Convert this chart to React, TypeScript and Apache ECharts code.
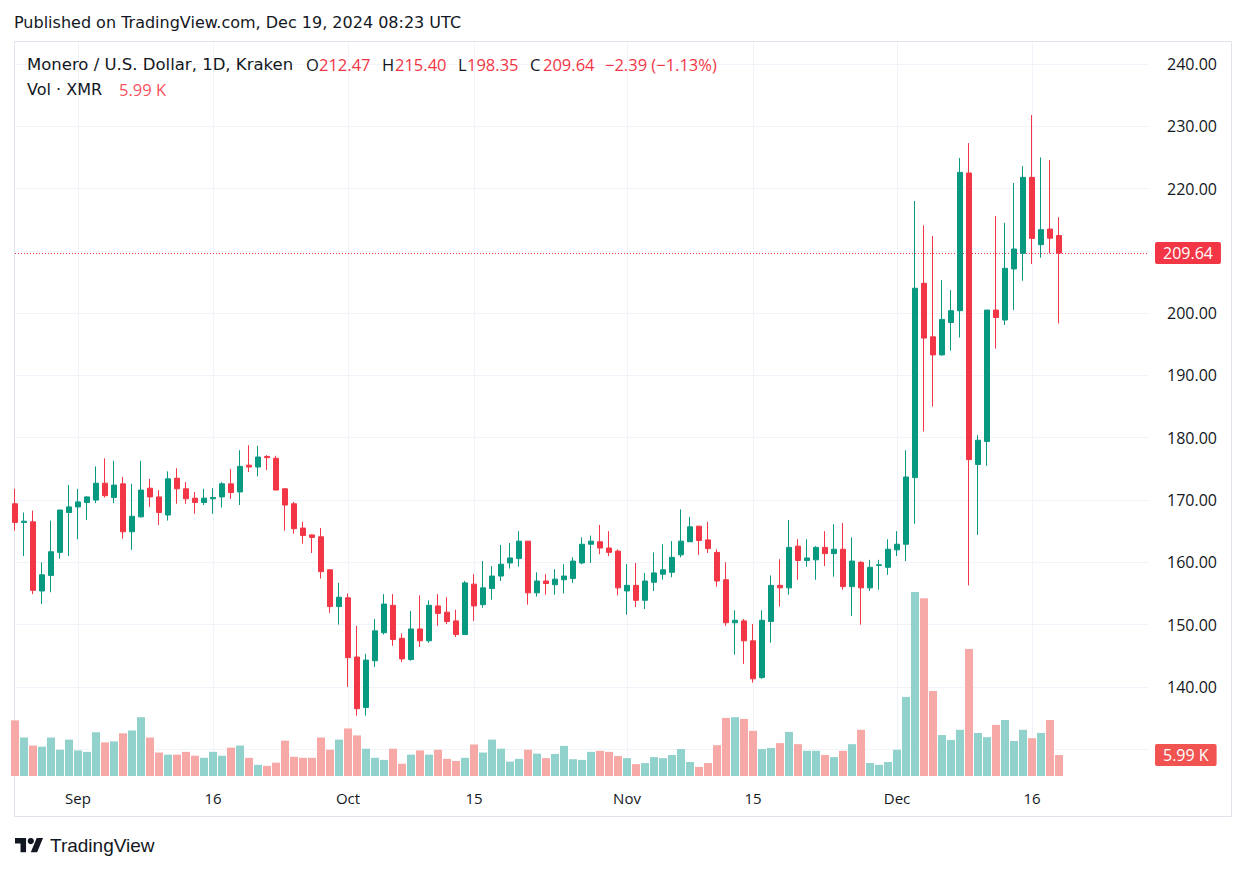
import React, { useEffect, useRef } from 'react';
import * as echarts from 'echarts';

// Monero / U.S. Dollar, 1D, Kraken — daily candles from 2024-08-25 to 2024-12-19
const opens = [
  169.4, 166.4, 166.5, 155.4, 157.9, 161.6, 168.0, 168.9, 169.6, 170.0,
  172.7, 170.4, 172.6, 164.9, 167.3, 171.9, 170.5, 167.6, 173.5, 171.8,
  170.3, 169.6, 170.2, 170.5, 172.6, 171.3, 175.6, 175.3, 177.0, 176.7,
  171.8, 169.4, 165.5, 164.4, 164.1, 158.8, 152.9, 154.3, 144.8, 136.7,
  144.2, 148.7, 153.1, 147.8, 144.4, 149.3, 147.4, 153.0, 152.0, 150.6,
  148.4, 156.5, 153.2, 155.8, 157.8, 159.9, 160.6, 163.4, 155.1, 157.0,
  156.4, 157.2, 157.4, 159.9, 162.9, 163.3, 162.3, 161.8, 155.4, 156.3,
  153.9, 156.8, 158.1, 158.4, 161.2, 163.3, 165.8, 163.6, 161.6, 157.2,
  150.3, 150.6, 147.4, 141.5, 150.5, 156.3, 155.9, 162.6, 160.3, 160.4,
  162.4, 161.4, 162.1, 156.1, 160.0, 155.9, 159.5, 159.2, 162.0, 162.9,
  173.6, 204.8, 196.2, 193.3, 198.5, 200.4, 222.5, 175.7, 179.4, 200.5,
  198.9, 207.1, 209.6, 221.8, 211.0, 213.5, 212.47,
];
const highs = [
  171.8, 168.0, 168.3, 160.0, 166.7, 168.4, 172.4, 171.8, 170.6, 175.4,
  176.7, 176.3, 173.7, 172.6, 176.3, 173.4, 171.6, 174.6, 175.1, 172.9,
  171.3, 171.8, 171.9, 172.9, 175.0, 178.0, 178.8, 178.7, 177.2, 177.1,
  171.9, 169.7, 166.5, 164.5, 165.5, 158.8, 156.7, 155.0, 149.8, 145.3,
  150.9, 154.9, 154.9, 148.6, 152.2, 154.7, 153.9, 154.9, 154.4, 152.4,
  157.0, 158.1, 160.2, 159.4, 162.8, 163.1, 165.0, 163.4, 158.4, 158.1,
  158.9, 159.7, 160.8, 164.0, 164.3, 166.0, 165.0, 162.1, 159.7, 159.9,
  158.3, 161.6, 162.9, 163.4, 168.5, 167.3, 165.8, 166.5, 162.1, 160.0,
  152.3, 150.9, 150.1, 152.3, 157.9, 160.5, 166.8, 163.7, 163.7, 162.6,
  165.0, 166.1, 166.3, 164.0, 160.2, 160.4, 160.4, 163.7, 165.0, 178.0,
  218.0, 214.1, 212.4, 205.3, 203.7, 224.9, 227.3, 180.4, 200.5, 215.6,
  214.5, 220.9, 223.6, 231.8, 225.0, 224.6, 215.40,
];
const lows = [
  165.1, 161.0, 154.9, 153.3, 155.2, 160.6, 161.0, 163.7, 166.8, 169.5,
  170.4, 169.5, 163.8, 162.0, 167.2, 168.9, 166.0, 166.7, 169.4, 169.4,
  167.8, 169.2, 167.8, 168.8, 170.2, 169.2, 174.5, 173.8, 174.8, 171.6,
  165.1, 164.6, 163.0, 161.5, 157.4, 151.9, 150.0, 140.0, 135.4, 135.4,
  143.2, 148.4, 146.6, 144.0, 144.2, 146.4, 147.1, 149.8, 150.1, 148.0,
  148.4, 150.6, 152.7, 154.0, 157.0, 159.0, 159.3, 153.2, 154.5, 154.8,
  154.8, 155.0, 156.7, 159.7, 159.9, 161.3, 161.0, 154.7, 151.6, 152.8,
  152.5, 155.4, 157.2, 157.6, 160.8, 163.3, 161.2, 161.5, 156.1, 149.8,
  145.2, 143.7, 140.7, 141.3, 147.1, 152.9, 154.8, 157.2, 159.3, 157.2,
  159.4, 157.7, 155.6, 151.4, 150.0, 155.4, 155.6, 158.0, 161.0, 160.2,
  166.2, 181.0, 185.0, 193.2, 194.0, 196.1, 156.3, 164.4, 175.5, 194.3,
  198.1, 200.5, 205.2, 207.9, 208.9, 209.6, 198.35,
];
const closes = [
  166.4, 166.6, 155.5, 158.0, 161.7, 168.4, 168.9, 169.7, 170.5, 172.7,
  170.7, 172.4, 164.9, 167.4, 171.6, 170.5, 168.0, 173.4, 171.8, 170.2,
  169.6, 170.3, 170.4, 172.6, 171.2, 175.4, 175.3, 176.9, 176.8, 171.6,
  169.2, 165.4, 164.3, 164.0, 158.5, 152.9, 154.4, 144.7, 136.5, 144.3,
  149.0, 153.3, 147.6, 144.5, 149.3, 147.4, 153.1, 151.8, 150.5, 148.4,
  156.7, 153.0, 155.9, 157.8, 159.7, 160.7, 163.4, 155.1, 157.0, 156.6,
  157.3, 157.8, 160.2, 162.9, 163.4, 162.3, 161.6, 155.9, 156.3, 153.9,
  157.0, 158.3, 158.8, 160.8, 163.4, 165.7, 163.5, 162.2, 157.0, 150.3,
  150.7, 147.4, 141.3, 150.7, 156.3, 155.9, 162.4, 160.3, 160.7, 162.4,
  161.4, 162.1, 156.1, 160.2, 155.9, 159.2, 159.6, 162.1, 162.9, 173.7,
  204.0, 196.0, 193.3, 199.0, 200.4, 222.6, 176.5, 179.6, 200.5, 199.3,
  207.2, 210.3, 221.8, 212.0, 213.4, 212.03, 209.64,
];
// Volume in thousands of XMR
const volumes = [
  15.9, 11.0, 8.7, 8.4, 11.0, 7.5, 10.4, 7.3, 6.9, 12.5,
  9.6, 9.9, 12.2, 13.0, 16.8, 11.0, 6.7, 6.1, 6.1, 6.9,
  5.8, 5.2, 6.9, 5.8, 8.1, 8.7, 5.2, 3.2, 2.9, 3.8,
  10.1, 5.5, 5.2, 5.2, 11.0, 7.5, 10.4, 13.6, 11.6, 7.8,
  5.2, 4.6, 7.8, 3.5, 6.1, 7.3, 6.1, 7.5, 4.9, 4.3,
  5.2, 9.0, 6.7, 10.4, 7.8, 4.1, 4.9, 7.5, 6.4, 5.1,
  6.3, 8.6, 4.8, 4.6, 6.9, 7.2, 6.9, 5.7, 5.1, 3.4,
  3.7, 5.4, 5.1, 6.0, 7.7, 4.0, 2.6, 3.7, 8.8, 16.6,
  16.8, 16.3, 12.9, 7.7, 8.0, 9.4, 12.6, 9.1, 7.2, 7.2,
  6.0, 5.4, 7.2, 9.1, 13.2, 3.7, 3.2, 4.0, 7.5, 22.6,
  52.6, 50.8, 24.3, 11.7, 10.3, 13.2, 36.3, 12.3, 11.1, 14.6,
  16.0, 10.0, 13.2, 10.8, 12.3, 16.0, 5.99,
];
const tickIndex = [7, 22, 37, 51, 68, 82, 98, 113];
const tickLabels = ['Sep', '16', 'Oct', '15', 'Nov', '15', 'Dec', '16'];
const priceTicks = [130, 140, 150, 160, 170, 180, 190, 200, 210, 220, 230, 240];

const START = Date.UTC(2024, 7, 25);
const SLOTS = 127;
const categories = Array.from({ length: SLOTS }, (_, i) =>
  new Date(START + i * 86400000).toISOString().slice(0, 10)
);

const UP = '#089981';
const DOWN = '#f23645';
const VOL_UP = '#92d2cc';
const VOL_DOWN = '#f7a9a7';
const TEXT = '#131722';
const GRID = '#f0f3fa';
const FONT = '"Open Sans", "Liberation Sans", Arial, sans-serif';
const WORD_FONT = '"DejaVu Sans", "Open Sans", sans-serif';

const LOGO_PATH = 'M14 22H7V11H0V4h14v18zM28 22h-8l7.5-18h8L28 22z';

export default function App() {
  const ref = useRef<HTMLDivElement>(null);
  useEffect(() => {
    document.body.style.margin = '0';
    echarts.graphic.registerShape('tvlogo', echarts.graphic.extendPath(LOGO_PATH, {}));
    const chart = echarts.init(ref.current!, null, { renderer: 'svg' });

    const n = closes.length;
    const candleData = closes.map((c, i) => [opens[i], c, lows[i], highs[i]]);
    const volData = volumes.map((v, i) => ({
      value: v,
      itemStyle: { color: closes[i] >= opens[i] ? VOL_UP : VOL_DOWN },
    }));
    const last = n - 1;
    const lastClose = closes[last];
    const lastOpen = opens[last];
    const chg = lastClose - closes[last - 1];
    const chgPct = (chg / closes[last - 1]) * 100;
    const fmt = (v: number) => (v < 0 ? '\u2212' + Math.abs(v).toFixed(2) : '+' + v.toFixed(2));

    const isTick = (idx: number) => tickIndex.includes(idx);

    const hdrY = 64;
    const legendParts: any[] = [
      { x: 27, text: 'Monero / U.S. Dollar, 1D, Kraken', color: TEXT, font: WORD_FONT, size: 16.5 },
      { x: 306, text: 'O', color: TEXT, font: FONT, size: 16.5 },
      { x: 319, text: lastOpen.toFixed(2), color: DOWN, font: FONT, size: 16.5 },
      { x: 382, text: 'H', color: TEXT, font: FONT, size: 16.5 },
      { x: 395, text: highs[last].toFixed(2), color: DOWN, font: FONT, size: 16.5 },
      { x: 458, text: 'L', color: TEXT, font: FONT, size: 16.5 },
      { x: 467, text: lows[last].toFixed(2), color: DOWN, font: FONT, size: 16.5 },
      { x: 530, text: 'C', color: TEXT, font: FONT, size: 16.5 },
      { x: 543, text: lastClose.toFixed(2), color: DOWN, font: FONT, size: 16.5 },
      { x: 605, text: `${fmt(chg)} (${fmt(chgPct)}%)`, color: DOWN, font: FONT, size: 16.5 },
    ];

    const graphics: any[] = [
      {
        type: 'rect',
        silent: true,
        z: -10,
        shape: { x: 14.5, y: 41.5, width: 1217, height: 775 },
        style: { fill: 'none', stroke: '#e0e3eb', lineWidth: 1 },
      },
      {
        type: 'text',
        x: 14,
        y: 22,
        z: 100,
        style: {
          text: 'Published on TradingView.com, Dec 19, 2024 08:23 UTC',
          fill: TEXT,
          font: `16px ${WORD_FONT}`,
          verticalAlign: 'middle',
        },
      },
      ...legendParts.map((p) => ({
        type: 'text',
        x: p.x,
        y: hdrY,
        z: 100,
        style: { text: p.text, fill: p.color, font: `${p.size}px ${p.font}`, verticalAlign: 'middle' },
      })),
      {
        type: 'text',
        x: 27,
        y: 89,
        z: 100,
        style: { text: 'Vol \u00b7 XMR', fill: TEXT, font: `16px ${WORD_FONT}`, verticalAlign: 'middle' },
      },
      {
        type: 'text',
        x: 119,
        y: 89,
        z: 100,
        style: { text: `${volumes[last].toFixed(2)} K`, fill: '#f7525f', font: `16.5px ${FONT}`, verticalAlign: 'middle' },
      },
      {
        type: 'tvlogo',
        x: 15,
        y: 834.8,
        scaleX: 0.79,
        scaleY: 0.79,
        z: 100,
        style: { fill: TEXT },
      },
      {
        type: 'circle',
        z: 100,
        shape: { cx: 30.8, cy: 841.1, r: 3.16 },
        style: { fill: TEXT },
      },
      {
        type: 'text',
        x: 50,
        y: 845,
        z: 100,
        style: { text: 'TradingView', fill: TEXT, font: `500 19px "Liberation Sans", Arial, sans-serif`, verticalAlign: 'middle' },
      },
    ];

    chart.setOption({
      animation: false,
      backgroundColor: '#ffffff',
      textStyle: { fontFamily: FONT },
      grid: [
        { left: 15, right: 98, top: 64, bottom: 871 - 749.2 },
        { left: 15, right: 98, top: 42, bottom: 95 },
      ],
      xAxis: [
        {
          type: 'category',
          gridIndex: 0,
          data: categories,
          boundaryGap: false,
          axisLine: { show: false },
          axisTick: { show: false },
          axisLabel: { show: false },
          splitLine: { show: false },
        },
        {
          type: 'category',
          gridIndex: 1,
          data: categories,
          boundaryGap: false,
          axisLine: { show: false },
          axisTick: { show: false },
          axisLabel: {
            show: true,
            interval: (idx: number) => isTick(idx),
            formatter: (_v: string, idx: number) => tickLabels[tickIndex.indexOf(idx)] ?? '',
            color: TEXT,
            fontSize: 15,
            margin: 14,
          },
          splitLine: {
            show: true,
            interval: (idx: number) => isTick(idx),
            lineStyle: { color: GRID, width: 1 },
          },
        },
      ],
      yAxis: [
        {
          type: 'value',
          gridIndex: 0,
          position: 'right',
          min: priceTicks[0],
          max: priceTicks[priceTicks.length - 1],
          interval: 10,
          axisLine: { show: false },
          axisTick: { show: false },
          axisLabel: {
            margin: 18,
            color: TEXT,
            fontSize: 16,
            // the lowest tick sits in the volume pane and the one under the price tag is hidden
            formatter: (v: number) =>
              v === priceTicks[0] || Math.abs(v - lastClose) < 3 ? '' : v.toFixed(2),
          },
          splitLine: { show: true, lineStyle: { color: GRID, width: 1 } },
        },
        {
          type: 'value',
          gridIndex: 1,
          min: 0,
          max: 734 / 3.5,
          show: false,
          splitLine: { show: false },
        },
      ],
      series: [
        {
          type: 'bar',
          name: 'Volume',
          xAxisIndex: 1,
          yAxisIndex: 1,
          data: volData,
          barWidth: 8,
          clip: true,
          z: 1,
          markLine: {
            silent: true,
            symbol: ['none', 'none'],
            data: [{ yAxis: volumes[last] }],
            lineStyle: { color: 'rgba(0,0,0,0)', width: 0 },
            label: {
              show: true,
              position: 'end',
              distance: 6,
              formatter: `${volumes[last].toFixed(2)} K`,
              backgroundColor: '#f05350',
              color: '#ffffff',
              fontSize: 16,
              padding: [3, 8, 3, 8],
              borderRadius: 2,
            },
          },
        },
        {
          type: 'candlestick',
          name: 'XMRUSD',
          xAxisIndex: 0,
          yAxisIndex: 0,
          data: candleData,
          barWidth: 6,
          clip: true,
          z: 5,
          itemStyle: {
            color: UP,
            color0: DOWN,
            borderColor: UP,
            borderColor0: DOWN,
            borderWidth: 1,
          },
          markLine: {
            silent: true,
            symbol: ['none', 'none'],
            data: [{ yAxis: lastClose }],
            lineStyle: { color: DOWN, type: [1, 2], width: 1 },
            label: {
              show: true,
              position: 'end',
              distance: 6,
              formatter: lastClose.toFixed(2),
              backgroundColor: DOWN,
              color: '#ffffff',
              fontSize: 16,
              padding: [3, 8, 3, 8],
              borderRadius: 2,
            },
          },
        },
      ],
      graphic: graphics,
    });

    return () => chart.dispose();
  }, []);

  return <div ref={ref} style={{ width: 1247, height: 871 }} />;
}
